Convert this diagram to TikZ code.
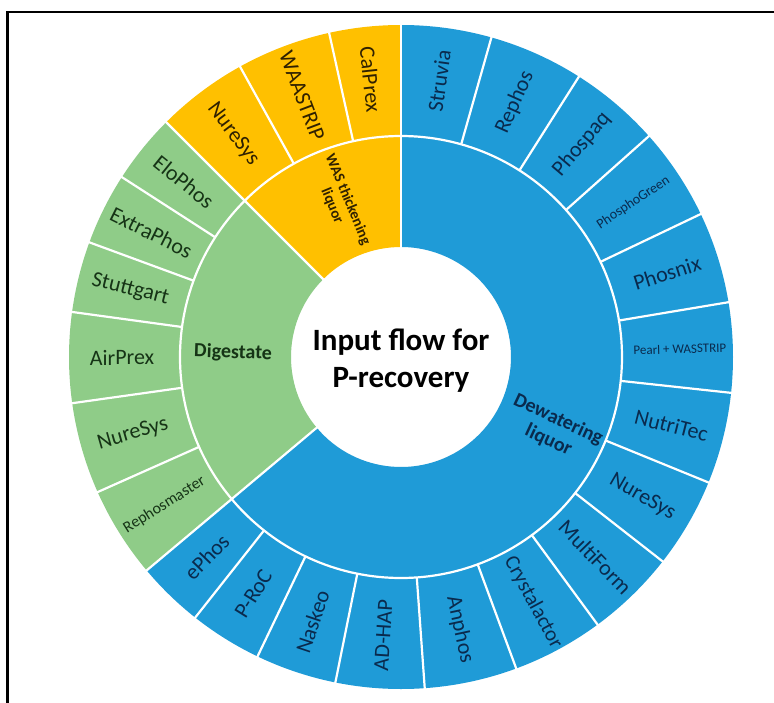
\documentclass[tikz,border=0pt]{standalone}
\usepackage{fontspec}
\setmainfont{Carlito}
\definecolor{sbblue}{HTML}{1F9BD7}
\definecolor{sbgreen}{HTML}{8FCC88}
\definecolor{sbyellow}{HTML}{FFC000}
\definecolor{txblue}{HTML}{0A2A4D}
\definecolor{txgreen}{HTML}{163416}
\definecolor{txyellow}{HTML}{302100}
\newcommand\sbsector[3]{\fill[#1] (#2:110pt) arc[start angle=#2, end angle=#3, radius=110pt] -- (#3:332pt) arc[start angle=#3, end angle=#2, radius=332pt] -- cycle;}
\newcommand\sbsep[1]{\draw[sepline] (#1:221pt) -- (#1:333pt);}
\newcommand\sbmain[1]{\draw[sepline] (#1:109pt) -- (#1:333pt);}
\begin{document}
\begin{tikzpicture}[x=1pt,y=1pt,
  sepline/.style={draw=white, line width=2.2pt},
  olab/.style={font=\fontsize{22}{26}\selectfont, inner sep=0pt, anchor=center},
  ilab/.style={font=\bfseries\fontsize{20}{23}\selectfont, inner sep=0pt, align=center, anchor=center},
  frameline/.style={draw=black, line width=2.4pt}]
\useasboundingbox (-401,-345) rectangle (373,357);
\fill[white] (-401,-345) rectangle (373,357);
\draw[frameline] (-393.5,-346) -- (-393.5,345) -- (374,345);
% top-level sectors
\sbsector{sbblue}{-140}{90}
\sbsector{sbgreen}{135}{220}
\sbsector{sbyellow}{90}{135}
% ring boundary
\draw[sepline] (0,0) circle[radius=221pt];
% outer separators blue
\foreach \a in {74.2,57.6,41.7,25.5,9.5,-6.2,-22.2,-38,-53.7,-69.7,-85.9,-101.4,-115.6,-128.3} {\sbsep{\a}}
% outer separators green
\foreach \a in {147.2,159.8,172.2,188,204} {\sbsep{\a}}
% outer separators yellow
\foreach \a in {102.5,119} {\sbsep{\a}}
% main separators
\sbmain{90}\sbmain{135}\sbmain{220}
% center title
\node[font=\bfseries\fontsize{31}{37}\selectfont, align=center, inner sep=0pt] (title) at (0,-4) {Input flow for\\P-recovery};
% inner labels
\node[ilab, text=txblue, rotate=-25] (dew) at (-25.6:169pt) {Dewatering\\liquor};
\node[ilab, text=txgreen, rotate=-2] (dig) at (178.6:168pt) {Digestate};
\node[ilab, text=txyellow, rotate=-67.5, font=\bfseries\fontsize{15}{17}\selectfont] (was) at (111.6:166pt) {WAS thickening\\liquor};
% outer labels blue
\node[olab, text=txblue, rotate=82.1] (b1) at (82.1:279pt) {Struvia};
\node[olab, text=txblue, rotate=65.9] (b2) at (65.9:279pt) {Rephos};
\node[olab, text=txblue, rotate=49.65] (b3) at (49.65:279pt) {Phospaq};
\node[olab, text=txblue, rotate=33.6, font=\fontsize{14}{16}\selectfont] (b4) at (33.6:279pt) {PhosphoGreen};
\node[olab, text=txblue, rotate=17.5] (b5) at (17.5:279pt) {Phosnix};
\node[olab, text=txblue, rotate=1.65, font=\fontsize{13}{15}\selectfont] (b6) at (1.65:279pt) {Pearl + WASSTRIP};
\node[olab, text=txblue, rotate=-14.2] (b7) at (-14.2:279pt) {NutriTec};
\node[olab, text=txblue, rotate=-30.1] (b8) at (-30.1:279pt) {NureSys};
\node[olab, text=txblue, rotate=-45.85] (b9) at (-45.85:279pt) {MultiForm};
\node[olab, text=txblue, rotate=-61.7, font=\fontsize{21}{25}\selectfont] (b10) at (-61.7:279pt) {Crystalactor};
\node[olab, text=txblue, rotate=-77.8] (b11) at (-77.8:279pt) {Anphos};
\node[olab, text=txblue, rotate=86.35] (b12) at (-93.65:279pt) {AD-HAP};
\node[olab, text=txblue, rotate=71.5] (b13) at (-108.5:279pt) {Naskeo};
\node[olab, text=txblue, rotate=58.05] (b14) at (-121.95:279pt) {P-RoC};
\node[olab, text=txblue, rotate=45.85] (b15) at (-134.15:279pt) {ePhos};
% outer labels green
\node[olab, text=txgreen, rotate=-38.9] (g1) at (141.1:279pt) {EloPhos};
\node[olab, text=txgreen, rotate=-26.5] (g2) at (153.5:279pt) {ExtraPhos};
\node[olab, text=txgreen, rotate=-14] (g3) at (166:279pt) {Stuttgart};
\node[olab, text=txgreen, rotate=0.1] (g4) at (180.1:279pt) {AirPrex};
\node[olab, text=txgreen, rotate=16] (g5) at (196:279pt) {NureSys};
\node[olab, text=txgreen, rotate=32, font=\fontsize{16}{18}\selectfont] (g6) at (212:279pt) {Rephosmaster};
% outer labels yellow
\node[olab, text=txyellow, rotate=-83.75] (y1) at (96.25:279pt) {CalPrex};
\node[olab, text=txyellow, rotate=-69.25] (y2) at (110.75:279pt) {WAASTRIP};
\node[olab, text=txyellow, rotate=-53] (y3) at (127:279pt) {NureSys};
\end{tikzpicture}
\end{document}
